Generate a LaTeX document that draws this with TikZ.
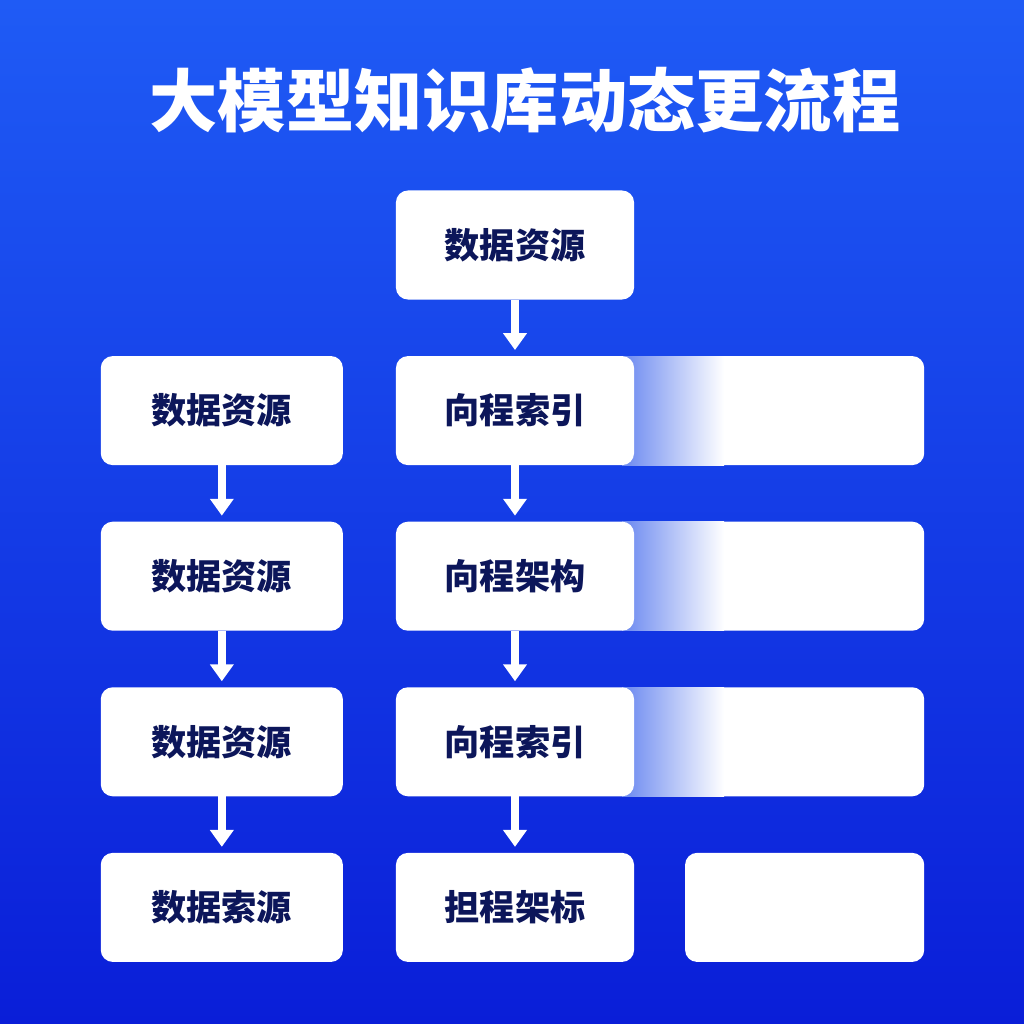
\documentclass[tikz,border=0pt]{standalone}
\usepackage{fontspec}
\newfontfamily\cjk{Noto Sans CJK SC}
\usetikzlibrary{positioning, arrows.meta, backgrounds}
\definecolor{bgtop}{HTML}{1F5BF5}
\definecolor{bgbot}{HTML}{0A1ED8}
\definecolor{ink}{HTML}{0C165A}
\definecolor{fade}{HTML}{6A88F0}

\tikzset{
  box/.style={fill=white, rounded corners=0.12cm, minimum width=2.4cm, minimum height=1.09cm,
    outer sep=0pt, text=ink, font=\cjk\bfseries\fontsize{10}{12}\selectfont},
  flow/.style={-{Triangle[width=6.5pt, length=4.8pt]}, white, line width=2.2pt, shorten >=0.06cm},
}

\begin{document}
\begin{tikzpicture}[x=0.01cm, y=-0.01cm, node distance=0.565cm and 0.53cm]
    \useasboundingbox (0,0) rectangle (1024,1024);

    \node[text=white, font=\cjk\bfseries\fontsize{19.4}{23}\selectfont] (title) at (525,100) {大模型知识库动态更流程};

    % middle column
    \node[box, minimum width=2.38cm] (src) at (515,245) {数据资源};
    \node[box, minimum width=2.38cm, below=of src] (idx1) {向程索引};
    \node[box, minimum width=2.38cm, below=of idx1] (arch) {向程架构};
    \node[box, minimum width=2.38cm, below=of arch] (idx2) {向程索引};
    \node[box, minimum width=2.38cm, below=of idx2] (tgt) {担程架标};

    % left column
    \node[box, minimum width=2.42cm, left=of idx1] (data1) {数据资源};
    \node[box, minimum width=2.42cm, below=of data1] (data2) {数据资源};
    \node[box, minimum width=2.42cm, below=of data2] (data3) {数据资源};
    \node[box, minimum width=2.42cm, below=of data3] (data4) {数据索源};

    % right panels
    \node[box, minimum width=2.39cm, right=0.51cm of tgt] (blank) {};
    \begin{scope}[on background layer]
        \shade[top color=bgtop, bottom color=bgbot] (0,0) rectangle (1024,1024);
        \foreach \n in {idx1, arch, idx2} {
            \fill[white, rounded corners=0.12cm] (\n.north east) rectangle ([xshift=2.9cm]\n.south east);
            \shade[left color=fade, middle color=fade!35!white, right color=white]
                ([xshift=-0.12cm]\n.north east) rectangle ([xshift=0.9cm]\n.south east);
        }
    \end{scope}

    \draw[flow] (src) -- (idx1);
    \draw[flow] (idx1) -- (arch);
    \draw[flow] (arch) -- (idx2);
    \draw[flow] (idx2) -- (tgt);
    \draw[flow] (data1) -- (data2);
    \draw[flow] (data2) -- (data3);
    \draw[flow] (data3) -- (data4);
\end{tikzpicture}
\end{document}
